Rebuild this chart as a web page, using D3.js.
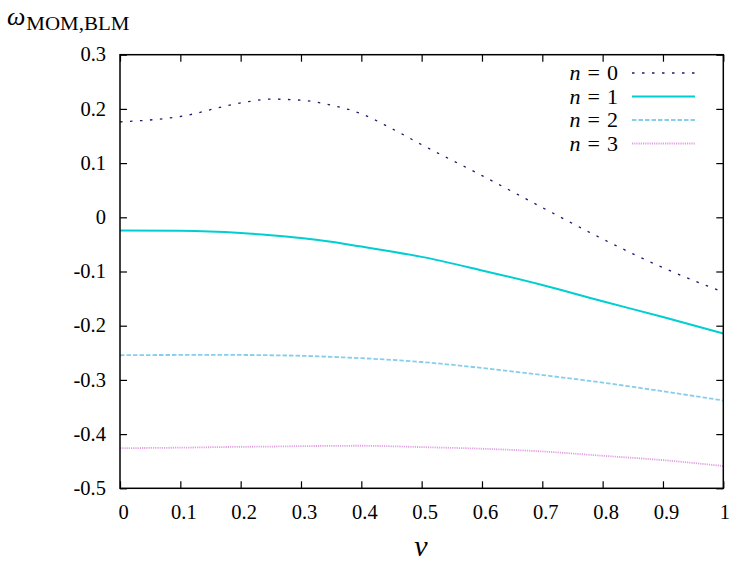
<!DOCTYPE html>
<html><head><meta charset="utf-8">
<script src="https://cdn.jsdelivr.net/npm/d3@7"></script>
<style>body{margin:0;background:#fff}svg{display:block}</style>
</head><body><svg id="c" width="730" height="564"></svg>
<script>
const nu = [0,0.1,0.2,0.25,0.3,0.35,0.4,0.45,0.5,0.6,0.7,0.8,0.9,1.0];
const n0 = [0.176,0.186,0.211,0.218,0.216,0.207,0.191,0.164,0.134,0.077,0.018,-0.040,-0.093,-0.138];
const n1 = [-0.0245,-0.025,-0.029,-0.033,-0.038,-0.045,-0.054,-0.063,-0.073,-0.098,-0.125,-0.155,-0.184,-0.2145];
const n2 = [-0.2545,-0.254,-0.254,-0.2545,-0.2555,-0.2575,-0.260,-0.263,-0.267,-0.278,-0.291,-0.305,-0.321,-0.338];
const n3 = [-0.426,-0.425,-0.4235,-0.423,-0.4222,-0.4218,-0.4215,-0.4225,-0.424,-0.427,-0.432,-0.44,-0.448,-0.459];
const seriesLabels = ["0","1","2","3"];
const xTicks = [0,0.1,0.2,0.3,0.4,0.5,0.6,0.7,0.8,0.9,1];
const yTicks = [0.3,0.2,0.1,0,-0.1,-0.2,-0.3,-0.4,-0.5];

const FONT = "Liberation Serif";
const svg = d3.select("#c");
const L=120, R=723.3, T=54.7, B=488.3;
const x = d3.scaleLinear().domain([0,1]).range([L,R]);
const y = d3.scaleLinear().domain([-0.5,0.3]).range([B,T]);

const styles = [
  {color:"#1a1a6e", w:1.3, dash:"2.5,7.5"},
  {color:"#00CED1", w:2, dash:null},
  {color:"#87CEEB", w:1.8, dash:"4.5,2"},
  {color:"#E0A0E0", w:1.8, dash:"1.2,1"}
];
const all = [n0,n1,n2,n3];

const g = svg.append("g");
const bx = g.append("g").attr("transform",`translate(0,${B})`)
  .call(d3.axisBottom(x).tickValues(xTicks).tickSize(-7).tickPadding(16).tickFormat(v=>String(v)));
bx.attr("font-family",FONT);
bx.select(".domain").remove();
bx.selectAll("text").attr("font-size",20.5).attr("font-family",FONT).attr("fill","#000").attr("dx",d=>d===1?1:3);
const tx = g.append("g").attr("transform",`translate(0,${T})`)
  .call(d3.axisTop(x).tickValues(xTicks).tickSize(-7).tickFormat(""));
tx.select(".domain").remove();
const ly = g.append("g").attr("transform",`translate(${L},0)`)
  .call(d3.axisLeft(y).tickValues(yTicks).tickSize(-7).tickPadding(14).tickFormat(v=>String(v)));
ly.attr("font-family",FONT);
ly.select(".domain").remove();
ly.selectAll("text").attr("font-size",20.5).attr("font-family",FONT).attr("fill","#000").attr("dy","0.3em");
const ry = g.append("g").attr("transform",`translate(${R},0)`)
  .call(d3.axisRight(y).tickValues(yTicks).tickSize(-7).tickFormat(""));
ry.select(".domain").remove();
g.selectAll(".tick line").attr("stroke","#000").attr("stroke-width",1.2);

const line = d3.line().x((d,i)=>x(nu[i])).y(d=>y(d)).curve(d3.curveMonotoneX);
all.forEach((s,k)=>{
  svg.append("path").attr("d",line(s)).attr("fill","none")
    .attr("stroke",styles[k].color).attr("stroke-width",styles[k].w)
    .attr("stroke-dasharray",styles[k].dash);
});

svg.append("rect").attr("x",L).attr("y",T).attr("width",R-L).attr("height",B-T)
  .attr("fill","none").attr("stroke","#000").attr("stroke-width",1.5);

seriesLabels.forEach((lab,k)=>{
  const yy = 73 + k*23.5;
  const t = svg.append("text").attr("x",618).attr("y",yy+7).attr("text-anchor","end")
    .attr("font-size",22).attr("font-family",FONT);
  t.append("tspan").attr("font-style","italic").text("n");
  t.append("tspan").attr("dx",7).text("=");
  t.append("tspan").attr("dx",7).text(lab);
  svg.append("line").attr("x1",632).attr("x2",695).attr("y1",yy).attr("y2",yy)
    .attr("stroke",styles[k].color).attr("stroke-width",styles[k].w).attr("stroke-dasharray",styles[k].dash);
});

const yt = svg.append("text").attr("x",7).attr("y",25).attr("font-family",FONT);
yt.append("tspan").attr("font-style","italic").attr("font-size",26).text("ω");
yt.append("tspan").attr("font-size",18).attr("dx",1).attr("dy",5).attr("textLength",103).attr("lengthAdjust","spacingAndGlyphs").text("MOM,BLM");

svg.append("text").attr("x",421).attr("y",556).attr("text-anchor","middle").attr("font-style","italic")
  .attr("font-size",30).attr("font-family",FONT).text("ν");
</script></body></html>
